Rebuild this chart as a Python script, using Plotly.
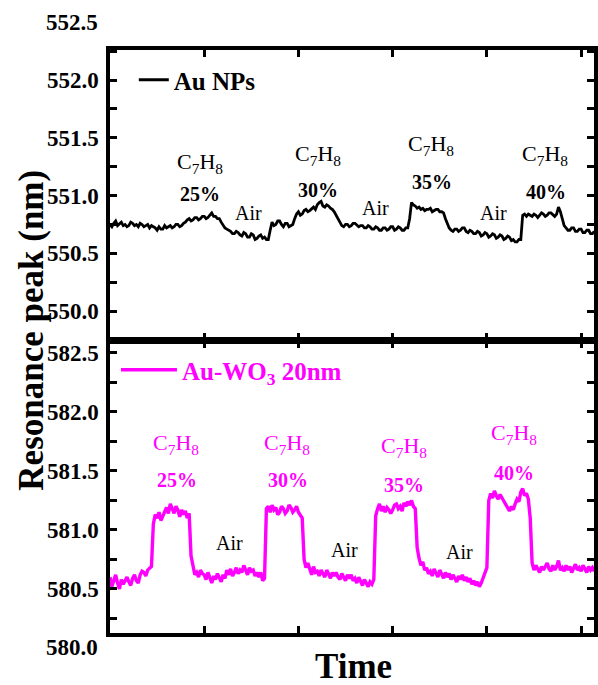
import plotly.graph_objects as go

# ---------------- data ----------------
time_step = 0.2  # arbitrary time units per sample
au_nps = [
    550.75, 550.73, 550.76, 550.78, 550.74, 550.76, 550.77, 550.74, 550.75, 550.73,
    550.74, 550.77, 550.76, 550.74, 550.75, 550.73, 550.76, 550.75, 550.73, 550.74,
    550.75, 550.72, 550.74, 550.73, 550.72, 550.70, 550.73, 550.71, 550.71, 550.74,
    550.72, 550.73, 550.74, 550.72, 550.73, 550.75, 550.75, 550.73, 550.74, 550.76,
    550.77, 550.79, 550.80, 550.78, 550.79, 550.81, 550.81, 550.79, 550.80, 550.82,
    550.82, 550.80, 550.81, 550.83, 550.85, 550.82, 550.82, 550.80, 550.80, 550.77,
    550.74, 550.72, 550.71, 550.70, 550.69, 550.67, 550.67, 550.69, 550.68, 550.66,
    550.65, 550.68, 550.67, 550.64, 550.64, 550.67, 550.66, 550.62, 550.63, 550.65,
    550.66, 550.63, 550.64, 550.62, 550.62, 550.70, 550.77, 550.74, 550.75, 550.78,
    550.78, 550.75, 550.73, 550.76, 550.76, 550.73, 550.74, 550.75, 550.80, 550.84,
    550.86, 550.83, 550.84, 550.87, 550.88, 550.86, 550.87, 550.89, 550.90, 550.88,
    550.92, 550.94, 550.95, 550.91, 550.90, 550.92, 550.91, 550.89, 550.88, 550.86,
    550.83, 550.79, 550.76, 550.74, 550.73, 550.75, 550.75, 550.73, 550.74, 550.76,
    550.76, 550.74, 550.73, 550.74, 550.74, 550.72, 550.72, 550.74, 550.73, 550.71,
    550.71, 550.73, 550.72, 550.70, 550.70, 550.72, 550.72, 550.70, 550.71, 550.73,
    550.73, 550.70, 550.71, 550.73, 550.72, 550.70, 550.70, 550.72, 550.72, 550.80,
    550.94, 550.92, 550.91, 550.89, 550.90, 550.88, 550.89, 550.87, 550.88, 550.88,
    550.89, 550.86, 550.87, 550.88, 550.88, 550.86, 550.86, 550.85, 550.80, 550.75,
    550.72, 550.70, 550.69, 550.71, 550.71, 550.69, 550.70, 550.72, 550.72, 550.69,
    550.68, 550.70, 550.69, 550.67, 550.67, 550.69, 550.68, 550.65, 550.66, 550.68,
    550.67, 550.64, 550.65, 550.67, 550.66, 550.63, 550.64, 550.66, 550.65, 550.62,
    550.63, 550.65, 550.64, 550.61, 550.62, 550.60, 550.60, 550.62, 550.62, 550.83,
    550.84, 550.82, 550.84, 550.83, 550.82, 550.84, 550.83, 550.81, 550.83, 550.85,
    550.84, 550.82, 550.83, 550.85, 550.85, 550.83, 550.82, 550.84, 550.90, 550.86,
    550.80, 550.74, 550.72, 550.70, 550.70, 550.72, 550.72, 550.69, 550.69, 550.71,
    550.71, 550.68, 550.68, 550.70, 550.70, 550.67, 550.67, 550.69,
]
au_wo3 = [
    580.60, 580.52, 580.57, 580.62, 580.55, 580.50, 580.58, 580.54, 580.57, 580.60,
    580.56, 580.53, 580.59, 580.62, 580.57, 580.55, 580.62, 580.65, 580.64, 580.61,
    580.66, 580.68, 580.69, 581.05, 581.13, 581.10, 581.15, 581.08, 581.12, 581.16,
    581.19, 581.14, 581.22, 581.18, 581.14, 581.20, 581.17, 581.11, 581.17, 581.13,
    581.16, 581.10, 581.14, 580.78, 580.68, 580.62, 580.64, 580.60, 580.66, 580.63,
    580.62, 580.58, 580.64, 580.60, 580.55, 580.61, 580.58, 580.63, 580.60, 580.56,
    580.62, 580.59, 580.66, 580.62, 580.67, 580.61, 580.64, 580.68, 580.63, 580.66,
    580.64, 580.70, 580.66, 580.62, 580.68, 580.65, 580.66, 580.61, 580.64, 580.60,
    580.64, 580.57, 580.59, 581.18, 581.20, 581.15, 581.21, 581.17, 581.19, 581.13,
    581.15, 581.20, 581.18, 581.14, 581.16, 581.21, 581.19, 581.15, 581.17, 581.20,
    581.15, 581.12, 581.10, 580.75, 580.68, 580.72, 580.66, 580.62, 580.69, 580.64,
    580.65, 580.61, 580.66, 580.63, 580.60, 580.66, 580.62, 580.59, 580.64, 580.61,
    580.64, 580.60, 580.58, 580.63, 580.60, 580.57, 580.62, 580.59, 580.62, 580.57,
    580.59, 580.55, 580.60, 580.57, 580.53, 580.58, 580.55, 580.52, 580.56, 580.54,
    580.58, 581.12, 581.18, 581.22, 581.16, 581.20, 581.15, 581.19, 581.17, 581.14,
    581.17, 581.21, 581.22, 581.18, 581.20, 581.16, 581.23, 581.20, 581.24, 581.21,
    581.25, 581.20, 581.18, 580.85, 580.76, 580.70, 580.73, 580.66, 580.68, 580.63,
    580.65, 580.61, 580.67, 580.63, 580.60, 580.66, 580.62, 580.59, 580.64, 580.60,
    580.63, 580.58, 580.62, 580.59, 580.56, 580.61, 580.58, 580.62, 580.57, 580.60,
    580.56, 580.59, 580.54, 580.57, 580.53, 580.56, 580.52, 580.55, 580.60, 580.64,
    580.68, 581.25, 581.31, 581.27, 581.33, 581.29, 581.26, 581.30, 581.27, 581.24,
    581.22, 581.18, 581.16, 581.20, 581.17, 581.22, 581.26, 581.24, 581.32, 581.35,
    581.29, 581.31, 581.26, 581.10, 580.72, 580.66, 580.70, 580.67, 580.64, 580.69,
    580.66, 580.69, 580.72, 580.67, 580.65, 580.70, 580.66, 580.69, 580.74, 580.66,
    580.68, 580.65, 580.70, 580.66, 580.69, 580.64, 580.68, 580.71, 580.66, 580.68,
    580.65, 580.70, 580.67, 580.64, 580.69, 580.66, 580.68, 580.65,
]
time = [i * time_step for i in range(len(au_nps))]

concentrations = ["25%", "30%", "35%", "40%"]
gas_label = "C<sub>7</sub>H<sub>8</sub>"
air_label = "Air"
series_names = ["Au NPs", "Au-WO<sub>3</sub> 20nm"]
top_ticks = [550.0, 550.5, 551.0, 551.5, 552.0, 552.5]
bottom_ticks = [580.0, 580.5, 581.0, 581.5, 582.0, 582.5]
x_title = "Time"
y_title = "Resonance peak (nm)"

# ---------------- layout (positions, styles) ----------------
top_gas_pos = [(9.5, 551.28), (22.1, 551.35), (34.1, 551.44), (46.2, 551.35)]
top_conc_pos = [(9.5, 551.01), (22.1, 551.05), (34.2, 551.12), (46.3, 551.03)]
top_air_pos = [(14.7, 550.85), (28.2, 550.89), (40.7, 550.85)]
bot_gas_pos = [(7.05, 581.73), (18.8, 581.73), (31.2, 581.70), (42.9, 581.81)]
bot_conc_pos = [(7.15, 581.42), (18.9, 581.42), (31.2, 581.38), (42.9, 581.48)]
bot_air_pos = [(12.7, 580.89), (24.9, 580.83), (37.1, 580.81)]

FONT = "Liberation Serif, Times New Roman, serif"
MAGENTA = "#ff00ff"
W, H = 598, 685
L = 110


def py2paper(py):
    return 1 - py / H


def px2paper(px):
    return (px - L) / (W - L)


top_domain = [py2paper(340), py2paper(50)]
bot_domain = [py2paper(633), py2paper(341)]
top_range = [549.75, 552.26]
bot_range = [580.127, 582.60]
xrange = [0, (W - L) / 9.5]


def val2paper(v, domain, rng):
    return domain[0] + (v - rng[0]) / (rng[1] - rng[0]) * (domain[1] - domain[0])


fig = go.Figure()
fig.add_trace(go.Scatter(x=time, y=au_nps, mode="lines", name="<b>" + series_names[0] + "</b>",
                         line=dict(color="black", width=2.8), xaxis="x", yaxis="y",
                         legend="legend"))
fig.add_trace(go.Scatter(x=time, y=au_wo3, mode="lines", name="<b>" + series_names[1] + "</b>",
                         line=dict(color=MAGENTA, width=3.4), xaxis="x2", yaxis="y2",
                         legend="legend2"))

axis_common = dict(showline=True, linewidth=3.5, linecolor="black", mirror="ticks",
                   ticks="inside", tickwidth=2.5, tickcolor="black", showgrid=False,
                   zeroline=False)
tickfont = dict(size=23, family=FONT, color="black")
minor = dict(dtick=0.25, tick0=0, ticks="inside", ticklen=7, tickwidth=2.5, tickcolor="black")

fig.update_layout(
    width=W, height=H,
    margin=dict(l=L, r=0, t=0, b=0),
    paper_bgcolor="white", plot_bgcolor="white",
    font=dict(family=FONT, color="black"),
    showlegend=True,
    xaxis=dict(domain=[0, 1], range=xrange, anchor="y", tick0=0, dtick=10, ticklen=7,
               showticklabels=False, **axis_common),
    yaxis=dict(domain=top_domain, range=top_range, anchor="x",
               tickvals=top_ticks, ticktext=["<b>%.1f</b>" % v for v in top_ticks],
               ticklen=7, tickfont=tickfont, ticklabelstandoff=3, minor=minor, **axis_common),
    xaxis2=dict(domain=[0, 1], range=xrange, anchor="y2", tick0=0, dtick=10, ticklen=7,
                showticklabels=False, **axis_common),
    yaxis2=dict(domain=bot_domain, range=bot_range, anchor="x2",
                tickvals=bottom_ticks, ticktext=["<b>%.1f</b>" % v for v in bottom_ticks],
                ticklen=7, tickfont=tickfont, ticklabelstandoff=3, minor=minor, **axis_common),
    legend=dict(x=px2paper(134), y=py2paper(80), xanchor="left", yanchor="middle",
                bgcolor="rgba(0,0,0,0)", font=dict(size=25, family=FONT, color="black")),
    legend2=dict(x=px2paper(116), y=py2paper(370), xanchor="left", yanchor="middle",
                 itemwidth=56, bgcolor="rgba(0,0,0,0)",
                 font=dict(size=25, family=FONT, color=MAGENTA)),
)

ann = []


def add_text(x, y, xref, yref, text, size, color):
    ann.append(dict(x=x, y=y, xref=xref, yref=yref, text=text, showarrow=False,
                    xanchor="center", yanchor="middle",
                    font=dict(size=size, family=FONT, color=color)))


for (x, y) in top_gas_pos:
    add_text(x, y, "x", "y", gas_label, 22, "black")
for (x, y), c in zip(top_conc_pos, concentrations):
    add_text(x, y, "x", "y", "<b>" + c + "</b>", 20, "black")
for (x, y) in top_air_pos:
    add_text(x, y, "x", "y", air_label, 20, "black")
for (x, y) in bot_gas_pos:
    add_text(x, y, "x2", "y2", gas_label, 22, MAGENTA)
for (x, y), c in zip(bot_conc_pos, concentrations):
    add_text(x, y, "x2", "y2", "<b>" + c + "</b>", 20, MAGENTA)
for (x, y) in bot_air_pos:
    add_text(x, y, "x2", "y2", air_label, 20, "black")

# tick labels that sit outside the frames (plotly hides out-of-range ticks)
for v in top_ticks:
    if not (top_range[0] <= v <= top_range[1]):
        ann.append(dict(x=px2paper(100), y=val2paper(v, top_domain, top_range),
                        xref="paper", yref="paper", xanchor="right", yanchor="middle",
                        text="<b>%.1f</b>" % v, showarrow=False, font=tickfont))
for v in bottom_ticks:
    if not (bot_range[0] <= v <= bot_range[1]):
        ann.append(dict(x=px2paper(100), y=val2paper(v, bot_domain, bot_range),
                        xref="paper", yref="paper", xanchor="right", yanchor="middle",
                        text="<b>%.1f</b>" % v, showarrow=False, font=tickfont))

# axis titles
ann.append(dict(x=px2paper(30), y=py2paper(330), xref="paper", yref="paper",
                xanchor="center", yanchor="middle",
                text="<b>" + y_title + "</b>", textangle=-90, showarrow=False,
                font=dict(size=35, family=FONT, color="black")))
ann.append(dict(x=px2paper(356), y=py2paper(666), xref="paper", yref="paper",
                xanchor="center", yanchor="middle",
                text="<b>" + x_title + "</b>", showarrow=False,
                font=dict(size=35, family=FONT, color="black")))

fig.update_layout(annotations=ann)
fig.write_html("out.html")
